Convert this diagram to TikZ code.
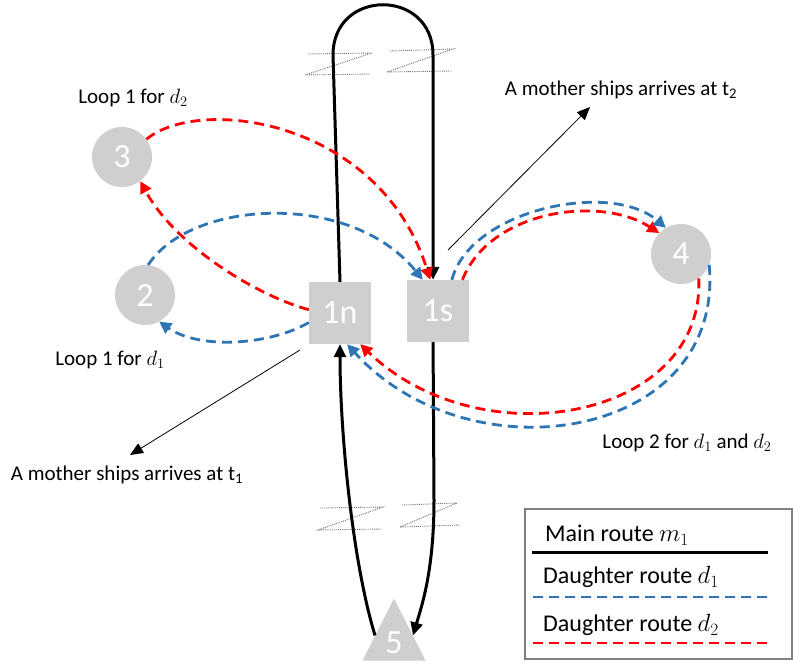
\documentclass[tikz,border=0pt]{standalone}
\usepackage{fontspec}
\setmainfont{Carlito}
\usetikzlibrary{arrows.meta,shapes.geometric,calc}
\definecolor{nodegray}{HTML}{D0CECE}
\definecolor{dblue}{HTML}{2E75B6}
\definecolor{dred}{HTML}{FF0000}
\definecolor{cutgray}{HTML}{6F6F6F}
\begin{document}
\begin{tikzpicture}[x=1pt,y=-1pt,
  site/.style={fill=nodegray,text=white,font=\fontsize{34}{34}\selectfont,inner sep=0pt},
  circ/.style={site,circle,minimum size=60pt},
  sq/.style={site,rectangle,minimum size=62pt},
  mainroute/.style={black,line width=3pt,-{Triangle[length=13pt,width=12pt]}},
  d1route/.style={dblue,line width=2.8pt,dash pattern=on 10pt off 6pt,-{Triangle[length=12pt,width=12pt]}},
  d2route/.style={dred,line width=2.8pt,dash pattern=on 10pt off 6pt,-{Triangle[length=12pt,width=12pt]}},
  cut/.style={cutgray,densely dotted,line width=0.9pt},
  pointer/.style={black,line width=0.8pt,-{Triangle[length=13pt,width=11pt]}},
  lbl/.style={font=\fontsize{21}{24}\selectfont,inner sep=0pt},
  leg/.style={font=\fontsize{24}{28}\selectfont,inner sep=0pt,anchor=west}
]
\useasboundingbox (0,0) rectangle (793,666);

% nodes
\node[circ] (n3) at (122,157) {3};
\node[circ] (n2) at (145,295) {2};
\node[circ] (n4) at (681,254) {4};
\node[sq] (n1n) at (340,313) {1n};
\node[sq] (n1s) at (438,311) {1s};
\node[site,isosceles triangle,isosceles triangle stretches,shape border rotate=90,
      minimum width=63pt,minimum height=62pt,anchor=apex] (n5) at (394,598) {5};

% zigzag cut marks
\draw[cut] (308,54) -- (372,53) -- (305,75) -- (370,74);
\draw[cut] (390,51) -- (453,49) -- (387,72) -- (452,71);
\draw[cut] (320,508) -- (383,507) -- (318,530) -- (382,529);
\draw[cut] (402,505) -- (457,503) -- (400,527) -- (460,525);

% main route
\draw[mainroute] (n5.160) .. controls (352,560) and (340,430) .. (n1n.south);
\draw[mainroute] (n1n.north) -- (333,55) .. controls (333,-12) and (433,-12) .. (433,55) -- (n1s.99);
\draw[mainroute] (n1s.261) -- (434,500) .. controls (434,570) and (422,605) .. (n5.20);

% daughter route d2 (red)
\draw[d2route] (n3.36) .. controls (200,95) and (380,120) .. (n1s.104);
\draw[d2route] (n1n.174) .. controls (255,295) and (175,245) .. (n3.-53);
\draw[d2route] (n1s.52) .. controls (490,210) and (600,195) .. (n4.136);
\draw[d2route] (n4.-54) .. controls (705,420) and (480,460) .. (n1n.-57);

% daughter route d1 (blue)
\draw[d1route] (n2.84) .. controls (190,200) and (350,190) .. (n1s.116);
\draw[d1route] (n1n.197) .. controls (270,345) and (200,350) .. (n2.-62);
\draw[d1route] (n1s.66) .. controls (470,210) and (610,180) .. (n4.120);
\draw[d1route] (n4.-21) .. controls (725,440) and (470,480) .. (n1n.-77);

% pointer arrows
\coordinate (p2s) at (448,250);
\coordinate (p2e) at (590,107);
\draw[pointer] (p2s) -- (p2e);
\coordinate (p1s) at (300,350);
\coordinate (p1e) at (130,455);
\draw[pointer] (p1s) -- (p1e);

% labels
\node[lbl] (l3) at (133,98) {Loop 1 for $d_2$};
\node[lbl] (l2) at (110,360) {Loop 1 for $d_1$};
\node[lbl] (lt2) at (621,90) {A mother ships arrives at t\textsubscript{2}};
\node[lbl] (lt1) at (127,475) {A mother ships arrives at t\textsubscript{1}};
\node[lbl] (l4) at (687,443) {Loop 2 for $d_1$ and $d_2$};

% legend
\draw[gray,line width=1.2pt] (525,509) rectangle (792,659);
\node[leg] (lg1) at (545,535) {Main route $m_1$};
\draw[black,line width=3pt] (532,552) -- (768,552);
\node[leg] (lg2) at (543,577) {Daughter route $d_1$};
\draw[dblue,line width=2.8pt,dash pattern=on 10pt off 6pt] (533,597) -- (773,597);
\node[leg] (lg3) at (543,625) {Daughter route $d_2$};
\draw[dred,line width=2.8pt,dash pattern=on 10pt off 6pt] (533,643) -- (773,643);
\end{tikzpicture}
\end{document}
